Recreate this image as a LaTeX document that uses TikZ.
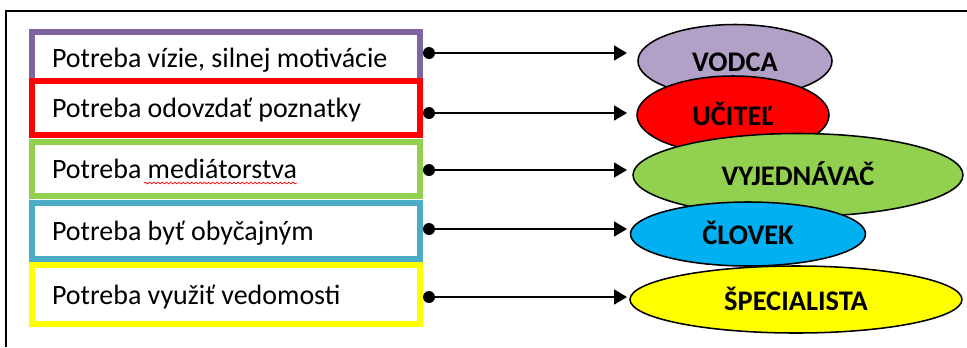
\documentclass[tikz,border=0pt]{standalone}
\usepackage{fontspec}
\setmainfont{Carlito}
\definecolor{rolepurple}{RGB}{128,100,162}
\definecolor{rolelilac}{RGB}{178,161,199}
\definecolor{rolered}{RGB}{255,0,0}
\definecolor{rolegreen}{RGB}{146,208,80}
\definecolor{roleteal}{RGB}{75,172,198}
\definecolor{rolecyan}{RGB}{0,176,240}
\definecolor{roleyellow}{RGB}{255,255,0}
\usetikzlibrary{arrows.meta,positioning,shapes.geometric,decorations.pathmorphing}

\begin{document}
\begin{tikzpicture}[
  box/.style={draw,fill=white,line width=4.2pt,minimum width=9.7cm,text width=8.7cm,inner xsep=0.5cm,inner ysep=0pt,
    text height=0.6cm,text depth=0.125cm,align=flush left,font=\fontsize{19.9}{24}\selectfont},
  dot/.style={circle,fill=black,inner sep=0pt,minimum size=0.3cm},
  role/.style={ellipse,draw,line width=1.1pt,inner sep=0pt,text height=0.6cm,text depth=0.06cm,
    font=\bfseries\fontsize{20.2}{24}\selectfont},
  link/.style={-{Triangle[length=0.325cm,width=0.375cm]},line width=1.1pt}]
  \useasboundingbox (0,0) rectangle (24.175,-8.675);
  % frame
  \draw[line width=1.8pt] (0.15,-8.675) -- (0.15,-0.275) -- (24.175,-0.275);

  % needs
  \node[box,draw=rolepurple,minimum height=1.3cm] (n1) at (5.65,-1.45) {Potreba vízie, silnej motivácie};
  \node[box,draw=rolered,minimum height=1.35cm] (n2) at (5.65,-2.7) {Potreba odovzdať poznatky};
  \node[box,draw=rolegreen,minimum height=1.35cm] (n3) at (5.65,-4.225) {Potreba mediátorstva};
  \node[box,draw=roleteal,minimum height=1.4cm] (n4) at (5.65,-5.775) {Potreba byť obyčajným};
  \node[box,draw=roleyellow,minimum height=1.475cm] (n5) at (5.65,-7.3625) {Potreba využiť vedomosti};
  % spelling squiggle
  \draw[red,line width=0.5pt,decorate,decoration={snake,amplitude=0.6pt,segment length=3pt}]
    ([shift={(2.875,-0.35)}]n3.west) -- ([shift={(6.7,-0.35)}]n3.west);

  % roles
  \node[role,fill=rolelilac,minimum width=4.85cm,minimum height=1.825cm] (vodca) at (18.375,-1.525) {VODCA};
  \node[role,fill=rolered,minimum width=4.8cm,minimum height=1.95cm] (ucitel) at (18.325,-2.875) {UČITEĽ};
  \node[role,fill=rolegreen,minimum width=8.25cm,minimum height=2.075cm] (vyjednavac) at (19.95,-4.375) {VYJEDNÁVAČ};
  \node[role,fill=rolecyan,minimum width=5.875cm,minimum height=1.6cm] (clovek) at (18.7,-5.85) {ČLOVEK};
  \node[role,fill=roleyellow,minimum width=8.3cm,minimum height=1.675cm] (specialista) at (19.9,-7.4875) {ŠPECIALISTA};

  % links
  \coordinate (tip) at (15.675,0);
  \node[dot] (d1) at (10.725,-1.325) {};
  \node[dot] (d2) at (10.725,-2.825) {};
  \node[dot] (d3) at (10.725,-4.25) {};
  \node[dot] (d4) at (10.725,-5.725) {};
  \node[dot] (d5) at (10.725,-7.425) {};
  \draw[link] (d1) -- (d1 -| tip);
  \draw[link] (d2) -- (d2 -| tip);
  \draw[link] (d3) -- (d3 -| tip);
  \draw[link] (d4) -- (d4 -| tip);
  \draw[link] (d5) -- (d5 -| tip);
\end{tikzpicture}
\end{document}
